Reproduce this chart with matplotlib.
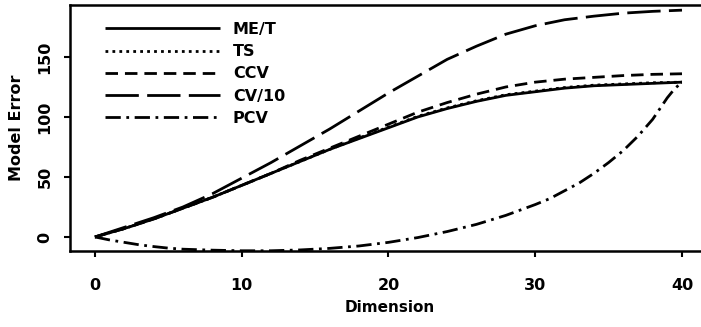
import matplotlib
matplotlib.use("Agg")
import matplotlib.pyplot as plt
import numpy as np

plt.rcParams['font.family'] = ['DejaVu Sans']
plt.rcParams['font.weight'] = 'bold'
plt.rcParams['lines.scale_dashes'] = False

# Model error against dimension for each selection criterion
dimension = [0, 2, 4, 6, 8, 10, 12, 14, 16, 18, 20, 22, 24, 26, 28, 30, 32, 34, 36, 38, 40]
me_t = [0, 7, 15, 24, 33, 43, 53, 63, 73, 82, 91, 100, 107, 113, 118, 121, 124, 126, 127, 128, 129]
ts = [0, 7, 15, 24, 33, 43, 53, 63, 73, 82.5, 91.5, 100.5, 107.5, 113.5, 118.5, 121.5, 124.5, 126.5, 127.5, 128.5, 129]
ccv = [0, 7, 15, 24, 33, 43, 53, 64, 74, 84, 94, 104, 112, 119, 125, 129, 131.5, 133, 134.5, 135.5, 136]
cv10 = [0, 8, 16, 25, 36, 49, 62, 76, 90, 105, 120, 134, 148, 159, 169, 176, 181, 184, 186.5, 188, 189]

# PCV is read more finely where it bends
pcv_dim = [0, 1, 2, 3, 4, 5, 6, 8, 10, 12, 14, 16, 18, 20, 22, 24, 26, 28, 30,
           31, 32, 33, 34, 35, 36, 37, 38, 38.5, 39, 39.5, 40]
pcv = [0, -2.5, -4.5, -6.5, -8, -9.3, -10.2, -11, -11.5, -11.5, -10.8, -9.5, -7.5, -4.5,
       -0.5, 4.5, 10.5, 18, 27, 32, 38.5, 45, 53, 62, 72, 84, 98, 107, 116, 123.5, 129]

labels = ['ME/T', 'TS', 'CCV', 'CV/10', 'PCV']
styles = [
    '-',
    (0, (2, 3)),
    (0, (9, 5)),
    (0, (24, 6)),
    (0, (11, 4, 2, 4)),
]
xs = [dimension, dimension, dimension, dimension, pcv_dim]

fig = plt.figure(figsize=(7.01, 3.27), dpi=100)
ax = fig.add_axes([70 / 701, 76 / 327, 634 / 701, 246 / 327])

for x, ys, lab, ls in zip(xs, [me_t, ts, ccv, cv10, pcv], labels, styles):
    ax.plot(x, ys, color='black', lw=2.0, linestyle=ls, label=lab,
            solid_capstyle='butt', dash_capstyle='butt')

ax.set_xlim(-1.7, 41.5)
ax.set_ylim(-11.7, 193.3)
ax.set_xticks([0, 10, 20, 30, 40])
ax.set_yticks([0, 50, 100, 150])
ax.tick_params(direction='out', length=4.5, width=1.5, labelsize=11.5)
ax.tick_params(axis='x', pad=15)
ax.tick_params(axis='y', pad=8)
for t in ax.get_yticklabels():
    t.set_rotation(90)
    t.set_va('center')
for t in ax.get_xticklabels() + ax.get_yticklabels():
    t.set_fontweight('bold')

ax.spines['right'].set_visible(False)
for s in ['left', 'bottom', 'top']:
    ax.spines[s].set_linewidth(1.8)

fig.text(17 / 701, 1 - 128 / 327, 'Model Error', rotation=90, ha='center', va='center',
         fontsize=11.5, fontweight='bold')
fig.text(390 / 701, 1 - 308 / 327, 'Dimension', ha='center', va='center',
         fontsize=11, fontweight='bold')

leg = ax.legend(loc='upper left', bbox_to_anchor=(105 / 701, 1 - 22 / 327),
                bbox_transform=fig.transFigure, frameon=False, fontsize=11.5,
                handlelength=7.2, handletextpad=0.8, labelspacing=0.45,
                borderpad=0, borderaxespad=0)
for t in leg.get_texts():
    t.set_fontweight('bold')

fig.savefig('out.png', dpi=100)
